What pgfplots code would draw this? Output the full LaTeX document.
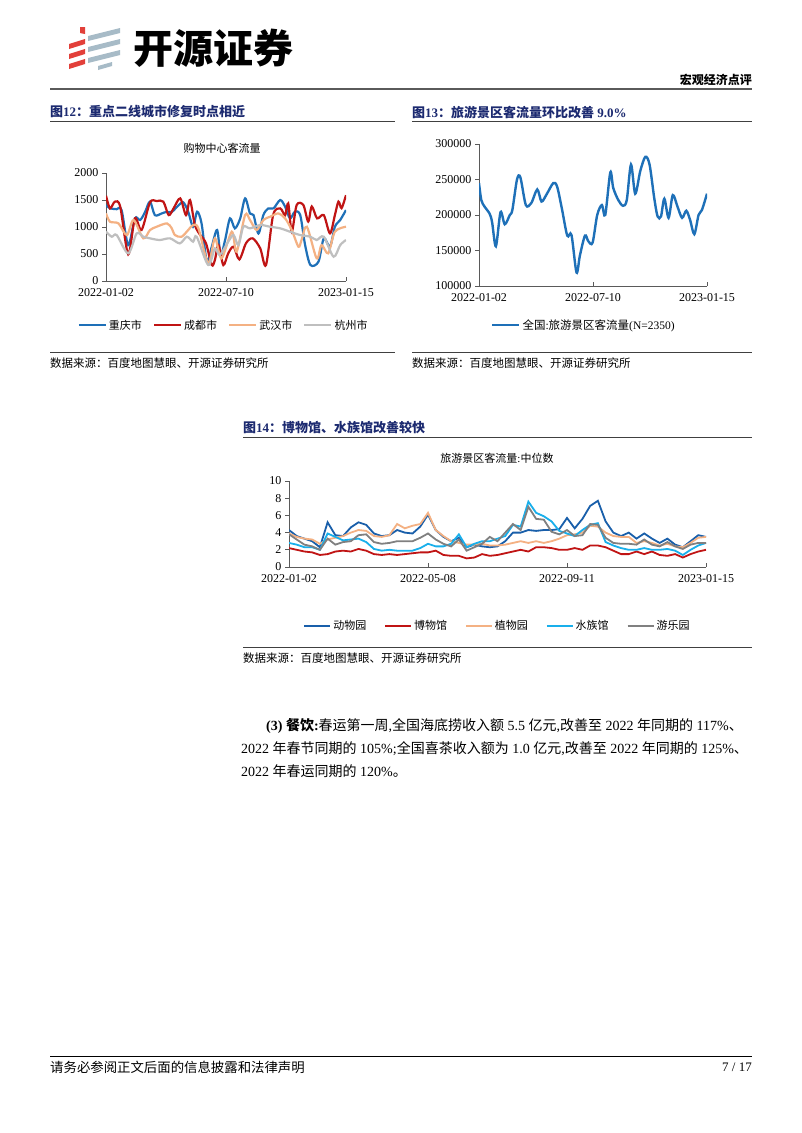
\documentclass[border=0pt]{standalone}
\usepackage{fontspec}
\setmainfont{Liberation Serif}
\newfontfamily\cjk{Noto Sans CJK SC}
\usepackage{pgfplots}
\usepackage{pgfplotstable}
\pgfplotsset{compat=1.18}

\newcommand\zh[1]{{\cjk #1}}
\newcommand\fs[1]{\fontsize{#1}{#1}\selectfont}

\definecolor{navy}{RGB}{28,42,112}
\definecolor{cqblue}{RGB}{30,112,184}
\definecolor{cdred}{RGB}{192,20,20}
\definecolor{whorange}{RGB}{244,177,131}
\definecolor{hzgray}{RGB}{191,191,191}
\definecolor{zooblue}{RGB}{25,95,170}
\definecolor{aqblue}{RGB}{25,175,235}
\definecolor{parkgray}{RGB}{128,128,128}
\definecolor{rulegray}{RGB}{90,90,90}
\definecolor{logored}{RGB}{226,64,58}
\definecolor{logogray}{RGB}{167,187,199}

% weekly medians, fig 14
\pgfplotstableread{
w  zoo mus bot aqu park
0  4.3 2.2 3.9 2.8 3.8
1  3.6 2.0 3.5 2.6 3.2
2  3.3 1.8 3.3 2.3 2.6
3  3.0 1.7 3.2 2.3 2.4
4  2.3 1.4 2.7 2.0 2.0
5  5.2 1.5 3.2 3.9 3.3
6  3.7 1.8 3.4 3.5 2.6
7  3.6 1.9 3.6 3.1 2.9
8  4.6 1.8 4.0 3.2 3.0
9  5.2 2.1 4.3 3.3 3.7
10 4.9 1.9 4.2 2.9 3.8
11 3.9 1.5 3.6 2.1 2.9
12 3.6 1.4 3.5 1.9 2.7
13 3.7 1.5 3.7 2.0 2.8
14 4.3 1.4 5.0 1.9 3.0
15 4.0 1.5 4.5 1.9 3.0
16 3.9 1.6 4.8 1.9 3.0
17 4.7 1.7 5.0 2.2 3.4
18 6.1 1.7 6.3 2.7 3.9
19 4.3 1.9 4.3 2.4 3.2
20 3.5 1.4 3.6 2.4 2.7
21 3.0 1.3 3.0 2.7 2.4
22 3.4 1.3 2.8 3.8 3.2
23 2.3 1.0 2.6 2.3 1.9
24 2.6 1.1 2.6 2.7 2.3
25 2.4 1.5 2.7 3.0 2.7
26 2.3 1.3 2.5 3.0 3.5
27 2.4 1.4 2.5 3.3 3.0
28 3.0 1.6 2.6 3.6 4.0
29 4.0 1.8 2.8 4.9 5.0
30 4.0 2.0 3.0 4.7 4.3
31 4.3 1.8 2.8 7.6 7.0
32 4.2 2.3 3.0 6.3 5.6
33 4.3 2.3 2.8 5.9 5.5
34 4.3 2.2 3.0 5.3 4.1
35 4.4 2.0 3.3 4.2 3.8
36 5.7 2.0 3.7 3.9 4.3
37 4.5 2.2 3.8 3.6 3.6
38 5.6 2.0 4.0 4.3 3.7
39 7.1 2.5 4.8 4.9 5.0
40 7.7 2.5 4.7 5.1 4.9
41 5.3 2.3 4.0 2.9 3.4
42 4.0 1.9 3.6 2.5 2.8
43 3.6 1.5 3.5 2.2 2.7
44 4.0 1.5 3.5 2.0 2.7
45 3.3 1.8 2.8 2.0 2.6
46 3.9 1.5 3.0 2.2 3.2
47 3.3 1.8 2.8 2.0 2.6
48 2.8 1.4 2.5 2.0 2.4
49 3.3 1.3 2.7 2.1 2.9
50 2.6 1.5 2.4 1.9 2.4
51 2.3 1.1 2.3 1.4 2.1
52 3.0 1.5 2.8 2.0 2.6
53 3.7 1.8 3.4 2.5 2.8
54 3.5 2.0 3.5 2.8 2.8
}\museumdata

\pgfplotsset{
  pagechart/.style={
    scale only axis, enlargelimits=false, no markers,
    axis x line*=bottom, axis y line*=left,
    axis line style={rulegray, line width=0.8pt},
    tick style={rulegray, line width=0.8pt},
    major tick length=4pt, tick align=outside,
    x tick style={yshift=4pt},
    ticklabel style={font=\fs{12}},
    /pgf/number format/assume math mode=true,
    /pgf/number format/1000 sep={},
    xmin=0, xmax=54,
    legend style={draw=none, fill=none, font=\fs{11}, anchor=center},
    legend cell align=left,
  }
}

\begin{document}
\begin{tikzpicture}
\fill[white] (0pt,0pt) rectangle (802pt,-1133pt);
\path[use as bounding box] (0pt,0pt) rectangle (802pt,-1133pt);

% logo
\fill[logored] (80pt,-27pt) -- (85pt,-27pt) -- (85pt,-34pt) -- (80pt,-33pt) -- cycle;
\foreach \yc in {42,52,62} {
  \fill[logored] (69pt,-\yc pt-2pt) -- (85pt,-\yc pt+3pt) -- (85pt,-\yc pt-2pt) -- (69pt,-\yc pt-7pt) -- cycle;
}
\foreach \yc in {32,43,54} {
  \fill[logogray] (88pt,-\yc pt-4pt) -- (120pt,-\yc pt+4pt) -- (120pt,-\yc pt-1pt) -- (88pt,-\yc pt-9pt) -- cycle;
}
\fill[logogray] (98pt,-66pt) -- (112pt,-62pt) -- (112pt,-66pt) -- (98pt,-70pt) -- cycle;
\node[anchor=west, inner sep=0pt, font=\cjk\bfseries\fs{40}] at (133pt,-48pt) {开源证券};

% header
\node[anchor=east, inner sep=0pt, font=\cjk\bfseries\fs{12}] at (752pt,-80pt) {宏观经济点评};
\draw[rulegray, line width=1.5pt] (50pt,-89pt) -- (752pt,-89pt);

% figure titles and rules
\node[anchor=west, inner sep=0pt, text=navy, font=\bfseries\fs{13}] at (50pt,-112pt)
  {\zh{图}12\zh{：重点二线城市修复时点相近}};
\node[anchor=west, inner sep=0pt, text=navy, font=\bfseries\fs{13}] at (412pt,-112pt)
  {\zh{图}13\zh{：旅游景区客流量环比改善} 9.0\%};
\draw[black!75, line width=0.8pt] (50pt,-121pt) -- (395pt,-121pt);
\draw[black!75, line width=0.8pt] (412pt,-121pt) -- (752pt,-121pt);
\draw[black!75, line width=0.8pt] (50pt,-352pt) -- (395pt,-352pt);
\draw[black!75, line width=0.8pt] (412pt,-352pt) -- (752pt,-352pt);
\node[anchor=west, inner sep=0pt, font=\cjk\fs{11.5}] at (50pt,-363pt) {数据来源：百度地图慧眼、开源证券研究所};
\node[anchor=west, inner sep=0pt, font=\cjk\fs{11.5}] at (412pt,-363pt) {数据来源：百度地图慧眼、开源证券研究所};

\node[font=\cjk\fs{11}] at (222pt,-148pt) {购物中心客流量};

% fig 12
\begin{axis}[pagechart, at={(106pt,-281pt)}, anchor=south west,
  width=240pt, height=108pt,
  ymin=0, ymax=2000, ytick={0,500,1000,1500,2000},
  xtick={0,27,54}, xticklabels={2022-01-02,2022-07-10,2023-01-15},
  legend columns=4,
  legend style={at={(0.49,-0.41)}, /tikz/every even column/.append style={column sep=9pt}},
  legend image code/.code={\draw[#1] (0pt,0pt) -- (27pt,0pt);},
  every axis plot/.append style={line width=2.2pt, smooth}]
\addplot[cqblue] coordinates {(0,1407)(0.9,1345)(2.4,1330)(3.5,1314)(5,666)(6.5,1160)(7.7,1130)(8.8,1280)(9.9,1470)(11,1220)(12.5,1250)(13.6,1280)(14.8,1280)(16.3,1400)(17.4,1456)(18.5,1283)(19.6,1005)(20.5,1283)(21.5,1067)(22.7,360)(23.8,635)(25,944)(25.8,480)(26.8,760)(27.9,1160)(29,975)(30.2,1160)(31.3,1530)(32.4,1250)(33.2,1220)(34.3,880)(35.4,1220)(36.5,1345)(37.7,1345)(39.2,1500)(40.3,1376)(41.4,1160)(42.5,1283)(43.7,1220)(44.8,666)(46,296)(47.8,357)(49,790)(50.4,635)(51.5,1005)(52.7,1130)(54,1314)};
\addlegendentry{\zh{重庆市}}
\addplot[cdred] coordinates {(0,1580)(0.9,1345)(2,1470)(3.2,1376)(5,494)(6.5,1160)(8,944)(9.9,1456)(11.4,1480)(12.9,1470)(14.1,1220)(15.2,1345)(16.7,1530)(18,1220)(18.9,1500)(20,1037)(21.2,851)(22.5,697)(23.8,296)(24.5,389)(25.3,666)(26.4,296)(27.5,512)(28.7,635)(30,400)(31.5,700)(33,790)(34.7,605)(36,296)(37.6,1220)(39.2,1345)(40.3,1220)(41,1437)(41.8,913)(42.9,1407)(44.4,1407)(45.5,1100)(46.3,1380)(47.5,1160)(49,1220)(50.4,882)(51.5,1220)(52.3,1470)(53,1350)(54,1590)};
\addlegendentry{\zh{成都市}}
\addplot[whorange] coordinates {(0,1252)(0.9,1098)(2.8,1067)(4.7,850)(6.2,1129)(8.4,790)(9.9,944)(11.4,1005)(13.7,1067)(14.8,975)(15.5,851)(17,820)(18.5,944)(19.6,1037)(20.8,975)(23,327)(24.5,790)(26,420)(28.3,913)(29.4,543)(31.3,1222)(32.4,1129)(33.9,944)(35.4,1129)(36.9,1190)(38.8,1252)(40.3,1160)(41.8,944)(43.3,635)(44,760)(45.2,1005)(47.4,420)(48.5,666)(50,512)(51.5,913)(54,1005)};
\addlegendentry{\zh{武汉市}}
\addplot[hzgray] coordinates {(0,913)(1.3,820)(2.4,851)(5,512)(6.9,882)(8.4,820)(9.9,790)(12.1,759)(14.4,790)(16.6,697)(18.2,820)(19.6,728)(20.4,820)(23,296)(24.5,604)(25.6,481)(27.5,728)(28.7,851)(29.8,666)(30.9,1005)(32.4,975)(34.7,1037)(36.9,1005)(39.2,975)(41.4,913)(43.7,851)(46,820)(47.4,759)(49,820)(51.2,450)(52.7,666)(54,759)};
\addlegendentry{\zh{杭州市}}
\end{axis}

% fig 13
\begin{axis}[pagechart, at={(479pt,-286pt)}, anchor=south west,
  width=228pt, height=142pt,
  ymin=100000, ymax=300000, ytick={100000,150000,200000,250000,300000},
  scaled y ticks=false, yticklabel style={/pgf/number format/fixed},
  xtick={0,27,54}, xticklabels={2022-01-02,2022-07-10,2023-01-15},
  legend style={at={(0.46,-0.275)}, font=\fs{11.5}},
  legend image code/.code={\draw[#1] (0pt,0pt) -- (27pt,0pt);},
  every axis plot/.append style={line width=2.4pt, smooth}]
\addplot[cqblue] coordinates {(0,245000)(0.55,221000)(1.3,212000)(2.5,202000)(3.1,190000)(4,156000)(5.1,204000)(6.1,187000)(7.3,200000)(7.9,207000)(9,250000)(9.8,253000)(11.1,214000)(12.4,217000)(13.8,236000)(14.8,219000)(16,229000)(17.6,245000)(18.5,240000)(19.6,210000)(20.9,171000)(21.9,172000)(23.1,119000)(23.9,143000)(25.1,171000)(25.9,163000)(26.9,161000)(28,200000)(29.1,214000)(29.9,200000)(31.1,260000)(31.8,238000)(33,221000)(34.1,213000)(35,221000)(36,271000)(37,230000)(38.2,262000)(39.4,282000)(40.4,271000)(41.5,224000)(42.3,198000)(43.1,198000)(43.9,223000)(44.9,196000)(45.9,228000)(47,212000)(48.1,196000)(49.1,206000)(50,193000)(51,173000)(52,200000)(52.8,207000)(54,230000)};
\addlegendentry{\zh{全国}:\zh{旅游景区客流量}(N=2350)}
\end{axis}

% fig 14
\node[anchor=west, inner sep=0pt, text=navy, font=\bfseries\fs{13}] at (243pt,-428pt)
  {\zh{图}14\zh{：博物馆、水族馆改善较快}};
\draw[black!75, line width=0.8pt] (243pt,-437pt) -- (752pt,-437pt);
\node[font=\fs{11}] at (497pt,-458pt) {\zh{旅游景区客流量}:\zh{中位数}};

\begin{axis}[pagechart, at={(289pt,-567pt)}, anchor=south west,
  width=417pt, height=86pt,
  ymin=0, ymax=10, ytick={0,2,4,6,8,10},
  xtick={0,18,36,54}, xticklabels={2022-01-02,2022-05-08,2022-09-11,2023-01-15},
  legend columns=5,
  legend style={at={(0.5,-0.686)}, /tikz/every even column/.append style={column sep=16pt}},
  legend image code/.code={\draw[#1] (0pt,0pt) -- (26pt,0pt);},
  every axis plot/.append style={line width=1.8pt}]
\addplot[zooblue] table[x=w, y=zoo] {\museumdata};
\addlegendentry{\zh{动物园}}
\addplot[cdred] table[x=w, y=mus] {\museumdata};
\addlegendentry{\zh{博物馆}}
\addplot[whorange] table[x=w, y=bot] {\museumdata};
\addlegendentry{\zh{植物园}}
\addplot[aqblue] table[x=w, y=aqu] {\museumdata};
\addlegendentry{\zh{水族馆}}
\addplot[parkgray] table[x=w, y=park] {\museumdata};
\addlegendentry{\zh{游乐园}}
\end{axis}

\draw[black!75, line width=0.8pt] (243pt,-647pt) -- (752pt,-647pt);
\node[anchor=west, inner sep=0pt, font=\cjk\fs{11.5}] at (243pt,-658pt) {数据来源：百度地图慧眼、开源证券研究所};

% body text
\node[anchor=west, inner sep=0pt, font=\fs{14}] at (266pt,-726pt)
  {\textbf{(3)} \zh{\bfseries 餐饮}\textbf{:}\zh{春运第一周},\zh{全国海底捞收入额} 5.5 \zh{亿元},\zh{改善至} 2022 \zh{年同期的} 117\%\zh{、}};
\node[anchor=west, inner sep=0pt, font=\fs{14}] at (241pt,-749pt)
  {2022 \zh{年春节同期的} 105\%;\zh{全国喜茶收入额为} 1.0 \zh{亿元},\zh{改善至} 2022 \zh{年同期的} 125\%\zh{、}};
\node[anchor=west, inner sep=0pt, font=\fs{14}] at (241pt,-771pt)
  {2022 \zh{年春运同期的} 120\%\zh{。}};

% footer
\draw[black, line width=0.8pt] (50pt,-1056pt) -- (752pt,-1056pt);
\node[anchor=west, inner sep=0pt, font=\cjk\fs{13.4}] at (50pt,-1067pt) {请务必参阅正文后面的信息披露和法律声明};
\node[anchor=east, inner sep=0pt, font=\fs{13}] at (752pt,-1067pt) {7 / 17};
\end{tikzpicture}
\end{document}
